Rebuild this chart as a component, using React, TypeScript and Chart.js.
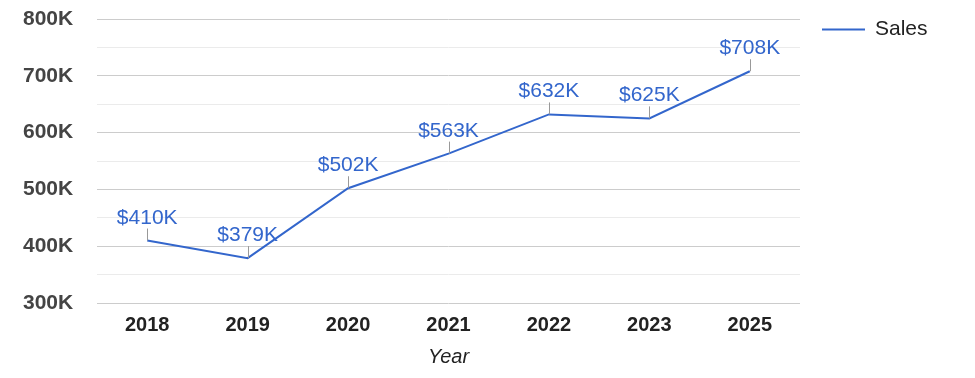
import React, { useEffect, useRef } from 'react';
import { Chart, registerables } from 'chart.js';

Chart.register(...registerables);

const years = ['2018', '2019', '2020', '2021', '2022', '2023', '2025'];
const sales = [410000, 379000, 502000, 563000, 632000, 625000, 708000];
const salesLabels = ['$410K', '$379K', '$502K', '$563K', '$632K', '$625K', '$708K'];
const seriesName = 'Sales';
const axisTitle = 'Year';
const yMin = 300000;
const yMax = 800000;
const yStep = 50000;

const FONT = '"Liberation Sans", Arial, sans-serif';
const LINE_COLOR = '#3366cc';

const annotationPlugin = {
  id: 'annotations',
  afterDatasetsDraw(chart: any) {
    const ctx = chart.ctx;
    const meta = chart.getDatasetMeta(0);
    ctx.save();
    meta.data.forEach((pt: any, i: number) => {
      const x = Math.round(pt.x) + 0.5;
      const y = pt.y;
      ctx.strokeStyle = '#999999';
      ctx.lineWidth = 1;
      ctx.beginPath();
      ctx.moveTo(x, y);
      ctx.lineTo(x, y - 12);
      ctx.stroke();
      ctx.fillStyle = LINE_COLOR;
      ctx.font = `21px ${FONT}`;
      ctx.textAlign = 'center';
      ctx.textBaseline = 'alphabetic';
      ctx.fillText(salesLabels[i], pt.x, y - 17);
    });
    ctx.restore();
  },
};

const legendPlugin = {
  id: 'customLegend',
  afterDraw(chart: any) {
    const ctx = chart.ctx;
    const x0 = chart.chartArea.right + 22;
    const y0 = 29.5;
    ctx.save();
    ctx.strokeStyle = LINE_COLOR;
    ctx.lineWidth = 2;
    ctx.beginPath();
    ctx.moveTo(x0, y0);
    ctx.lineTo(x0 + 43, y0);
    ctx.stroke();
    ctx.fillStyle = '#222222';
    ctx.font = `21px ${FONT}`;
    ctx.textAlign = 'left';
    ctx.textBaseline = 'middle';
    ctx.fillText(seriesName, x0 + 53, y0);
    ctx.restore();
  },
};

export default function App() {
  const canvasRef = useRef<HTMLCanvasElement | null>(null);

  useEffect(() => {
    if (!canvasRef.current) return;
    const chart = new Chart(canvasRef.current, {
      type: 'line',
      data: {
        labels: years,
        datasets: [
          {
            label: seriesName,
            data: sales,
            borderColor: LINE_COLOR,
            backgroundColor: LINE_COLOR,
            borderWidth: 2,
            pointRadius: 0,
            tension: 0,
          },
        ],
      },
      options: {
        animation: false,
        responsive: true,
        maintainAspectRatio: false,
        layout: { padding: { top: 19, right: 175, left: 23, bottom: 0 } },
        plugins: {
          legend: { display: false },
          tooltip: { enabled: false },
        },
        scales: {
          x: {
            offset: true,
            grid: { display: false },
            border: { display: false },
            ticks: {
              color: '#222222',
              font: { family: FONT, size: 20, weight: 'bold' },
              padding: 2,
              maxRotation: 0,
            },
            title: {
              display: true,
              text: axisTitle,
              color: '#222222',
              font: { family: FONT, size: 20, style: 'italic' },
              padding: { top: 6, bottom: 9 },
            },
          },
          y: {
            min: yMin,
            max: yMax,
            border: { display: false },
            grid: {
              drawTicks: false,
              color: (c: any) => (c.tick && c.tick.value % 100000 === 0 ? '#cccccc' : '#ebebeb'),
            },
            ticks: {
              stepSize: yStep,
              autoSkip: false,
              crossAlign: 'far',
              color: '#444444',
              font: { family: FONT, size: 21, weight: 'bold' },
              padding: 0,
              callback: (v: any) => (Number(v) % 100000 === 0 ? `${Number(v) / 1000}K` : ''),
            },
            afterFit: (scale: any) => {
              scale.width = 74;
            },
          },
        },
      },
      plugins: [annotationPlugin, legendPlugin],
    });
    return () => chart.destroy();
  }, []);

  return (
    <div style={{ position: 'fixed', left: 0, top: 0, width: 975, height: 378, background: '#fff' }}>
      <canvas ref={canvasRef} />
    </div>
  );
}
